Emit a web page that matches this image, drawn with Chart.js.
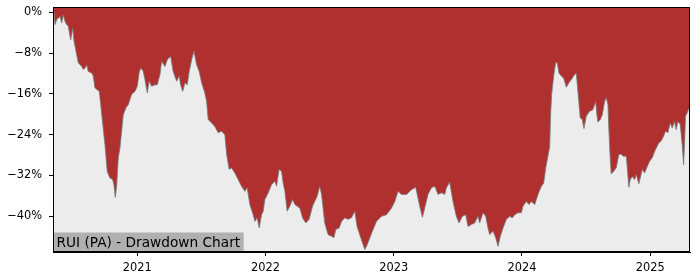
<!DOCTYPE html>
<html>
<head>
<meta charset="utf-8">
<script src="https://cdn.jsdelivr.net/npm/chart.js@4"></script>
<style>
  body { margin: 0; background: #fff; }
  #wrap { width: 700px; height: 280px; }
</style>
</head>
<body>
<div id="wrap"><canvas id="chart"></canvas></div>
<script>
// decimal years and drawdown in percent
var dates = [2020.351, 2020.359, 2020.372, 2020.398, 2020.411, 2020.423, 2020.437, 2020.450, 2020.462, 2020.481,
  2020.497, 2020.507, 2020.522, 2020.540, 2020.567, 2020.579, 2020.593, 2020.606, 2020.618, 2020.645,
  2020.657, 2020.670, 2020.688, 2020.704, 2020.715, 2020.730, 2020.748, 2020.766, 2020.787, 2020.808,
  2020.818, 2020.829, 2020.840, 2020.852, 2020.865, 2020.878, 2020.891, 2020.912, 2020.930, 2020.943,
  2020.956, 2020.982, 2021.000, 2021.016, 2021.029, 2021.047, 2021.060, 2021.078, 2021.093, 2021.112,
  2021.138, 2021.156, 2021.177, 2021.190, 2021.216, 2021.234, 2021.260, 2021.280, 2021.307, 2021.327,
  2021.338, 2021.354, 2021.372, 2021.390, 2021.405, 2021.424, 2021.442, 2021.463, 2021.483, 2021.502,
  2021.527, 2021.541, 2021.553, 2021.580, 2021.605, 2021.631, 2021.658, 2021.683, 2021.697, 2021.717,
  2021.735, 2021.761, 2021.787, 2021.813, 2021.839, 2021.857, 2021.878, 2021.891, 2021.904, 2021.917,
  2021.935, 2021.951, 2021.969, 2021.982, 2021.995, 2022.021, 2022.047, 2022.073, 2022.086, 2022.106,
  2022.125, 2022.138, 2022.151, 2022.169, 2022.190, 2022.211, 2022.229, 2022.268, 2022.289, 2022.314,
  2022.340, 2022.367, 2022.402, 2022.423, 2022.437, 2022.462, 2022.488, 2022.515, 2022.533, 2022.548,
  2022.574, 2022.593, 2022.618, 2022.644, 2022.670, 2022.696, 2022.714, 2022.748, 2022.774, 2022.787,
  2022.808, 2022.834, 2022.865, 2022.904, 2022.943, 2022.982, 2023.008, 2023.034, 2023.060, 2023.099,
  2023.138, 2023.171, 2023.189, 2023.206, 2023.224, 2023.241, 2023.267, 2023.294, 2023.320, 2023.345,
  2023.372, 2023.397, 2023.411, 2023.436, 2023.462, 2023.488, 2023.509, 2023.535, 2023.561, 2023.579,
  2023.605, 2023.631, 2023.657, 2023.670, 2023.696, 2023.717, 2023.735, 2023.748, 2023.774, 2023.795,
  2023.813, 2023.831, 2023.852, 2023.878, 2023.904, 2023.925, 2023.943, 2023.969, 2023.995, 2024.008,
  2024.034, 2024.055, 2024.073, 2024.099, 2024.125, 2024.151, 2024.169, 2024.185, 2024.202, 2024.216,
  2024.223, 2024.231, 2024.247, 2024.262, 2024.275, 2024.288, 2024.307, 2024.325, 2024.346, 2024.366,
  2024.384, 2024.402, 2024.423, 2024.436, 2024.454, 2024.470, 2024.483, 2024.501, 2024.527, 2024.553,
  2024.574, 2024.584, 2024.592, 2024.611, 2024.626, 2024.644, 2024.657, 2024.670, 2024.678, 2024.689,
  2024.696, 2024.714, 2024.735, 2024.755, 2024.774, 2024.787, 2024.813, 2024.821, 2024.833, 2024.844,
  2024.860, 2024.878, 2024.891, 2024.911, 2024.922, 2024.938, 2024.956, 2024.974, 2024.995, 2025.016,
  2025.034, 2025.047, 2025.067, 2025.086, 2025.104, 2025.119, 2025.137, 2025.156, 2025.171, 2025.189,
  2025.202, 2025.215, 2025.234, 2025.249, 2025.260, 2025.267, 2025.275, 2025.288, 2025.304];

var drawdown = [-0.1, -2.4, -1.4, -0.8, -2.1, -0.5, -1.8, -2.4, -2.7, -5.4,
  -3.1, -5.7, -7.6, -9.9, -10.6, -11.2, -10.9, -10.3, -11.6, -11.9,
  -12.5, -14.8, -15.2, -15.5, -18.1, -21.7, -25.9, -31.2, -32.5, -32.8,
  -33.8, -36.3, -33.8, -28.5, -26.6, -23.3, -20.1, -18.7, -18.1, -17.1,
  -16.1, -15.5, -14.5, -11.6, -10.9, -11.6, -13.2, -15.8, -13.5, -14.5,
  -14.2, -14.2, -12.2, -9.6, -10.6, -9.3, -8.6, -11.6, -13.5, -12.5,
  -14.2, -15.5, -13.8, -14.2, -11.6, -9.3, -7.6, -10.3, -11.6, -13.8,
  -15.8, -17.5, -21.0, -21.7, -22.4, -23.6, -23.3, -24.0, -27.9, -30.8,
  -30.5, -31.5, -32.8, -34.1, -35.1, -34.4, -37.7, -38.7, -39.7, -41.0,
  -40.3, -42.3, -39.7, -39.0, -36.7, -35.4, -33.8, -33.1, -34.1, -30.8,
  -31.2, -33.5, -35.1, -39.0, -38.0, -36.7, -37.7, -38.4, -40.3, -41.3,
  -40.6, -38.0, -36.1, -34.1, -35.7, -41.3, -43.6, -43.9, -44.2, -42.6,
  -42.3, -41.0, -40.3, -40.6, -40.3, -39.0, -42.0, -44.6, -46.5, -45.9,
  -44.6, -42.9, -41.0, -40.0, -39.7, -38.4, -37.1, -35.1, -35.7, -35.7,
  -34.8, -34.3, -36.4, -38.4, -40.2, -38.4, -35.7, -34.4, -34.1, -35.7,
  -35.4, -35.7, -34.4, -33.3, -37.1, -40.0, -41.3, -40.0, -39.7, -42.0,
  -41.6, -41.3, -40.0, -41.3, -39.3, -40.0, -42.3, -43.6, -42.9, -44.2,
  -45.9, -43.9, -42.3, -40.6, -40.0, -40.3, -39.7, -39.3, -39.3, -38.0,
  -37.1, -37.7, -37.1, -37.7, -35.7, -34.1, -33.5, -30.5, -28.2, -26.3,
  -20.1, -16.1, -12.5, -9.9, -9.9, -11.9, -12.5, -12.9, -14.7, -13.8,
  -13.2, -12.5, -11.9, -15.5, -20.7, -21.0, -22.8, -20.4, -19.4, -19.1,
  -17.5, -20.1, -21.5, -21.0, -20.1, -17.5, -16.7, -18.1, -23.3, -29.2,
  -31.7, -31.2, -30.5, -27.9, -27.8, -28.2, -28.2, -30.5, -34.3, -32.8,
  -32.2, -32.8, -31.8, -33.6, -32.5, -30.8, -31.5, -30.4, -29.2, -28.5,
  -27.3, -26.6, -25.6, -25.2, -24.3, -23.3, -23.6, -21.7, -22.7, -21.4,
  -23.0, -21.4, -22.0, -25.9, -29.9, -25.9, -20.4, -19.7, -18.7];

var yearTicks = [2021, 2022, 2023, 2024, 2025];
var pctTicks = [-40, -32, -24, -16, -8, 0];
var chartTitle = 'RUI (PA) - Drawdown Chart';

var points = [];
for (var i = 0; i < dates.length; i++) {
  points.push({ x: dates[i], y: drawdown[i] });
}

var FONT = 'DejaVu Sans';

// grey plot background, title box and a black frame round the plot area
var framePlugin = {
  id: 'frame',
  beforeDatasetsDraw: function (chart) {
    var a = chart.chartArea;
    var ctx = chart.ctx;
    ctx.save();
    ctx.fillStyle = '#ececec';
    ctx.fillRect(a.left, a.top, a.right - a.left, a.bottom - a.top);
    ctx.restore();
  },
  afterDraw: function (chart) {
    var a = chart.chartArea;
    var ctx = chart.ctx;
    ctx.save();
    ctx.font = '13.7px "' + FONT + '"';
    var w = ctx.measureText(chartTitle).width;
    ctx.fillStyle = '#b0b0b0';
    ctx.fillRect(a.left, a.bottom - 19.5, w + 7, 19.5);
    ctx.fillStyle = '#000';
    ctx.textBaseline = 'alphabetic';
    ctx.fillText(chartTitle, a.left + 3.5, a.bottom - 5);
    ctx.strokeStyle = '#000';
    ctx.lineWidth = 1;
    ctx.strokeRect(a.left + 0.5, a.top + 0.5, a.right - a.left - 1, a.bottom - a.top - 1);
    ctx.restore();
  }
};

var ctx = document.getElementById('chart');

new Chart(ctx, {
  type: 'line',
  data: {
    datasets: [{
      data: points,
      borderColor: 'rgba(120,120,120,0.8)',
      borderWidth: 1,
      backgroundColor: '#b03030',
      fill: 'end',
      pointRadius: 0,
      tension: 0
    }]
  },
  options: {
    responsive: true,
    maintainAspectRatio: false,
    animation: false,
    layout: { padding: { top: 7, right: 10, left: 0, bottom: 0 } },
    plugins: {
      legend: { display: false },
      tooltip: { enabled: false }
    },
    scales: {
      x: {
        type: 'linear',
        min: 2020.343,
        max: 2025.31,
        afterBuildTicks: function (scale) {
          scale.ticks = yearTicks.map(function (v) { return { value: v }; });
        },
        afterFit: function (scale) {
          scale.height = 28;
          scale.paddingLeft = 0;
          scale.paddingRight = 0;
        },
        grid: { drawOnChartArea: false, tickLength: 4, color: '#000' },
        border: { color: '#000' },
        ticks: {
          color: '#000',
          padding: 5,
          maxRotation: 0,
          font: { family: FONT, size: 11.4 },
          callback: function (v) { return String(v); }
        }
      },
      y: {
        min: -47,
        max: 1.05,
        afterBuildTicks: function (scale) {
          scale.ticks = pctTicks.map(function (v) { return { value: v }; });
        },
        afterFit: function (scale) {
          scale.width = 53;
          scale.paddingTop = 0;
          scale.paddingBottom = 0;
        },
        grid: { drawOnChartArea: false, tickLength: 4, color: '#000' },
        border: { color: '#000' },
        ticks: {
          color: '#000',
          padding: 7,
          font: { family: FONT, size: 11.4 },
          callback: function (v) { return (v < 0 ? '\u2212' + (-v) : v) + '%'; }
        }
      }
    }
  },
  plugins: [framePlugin]
});
</script>
</body>
</html>
